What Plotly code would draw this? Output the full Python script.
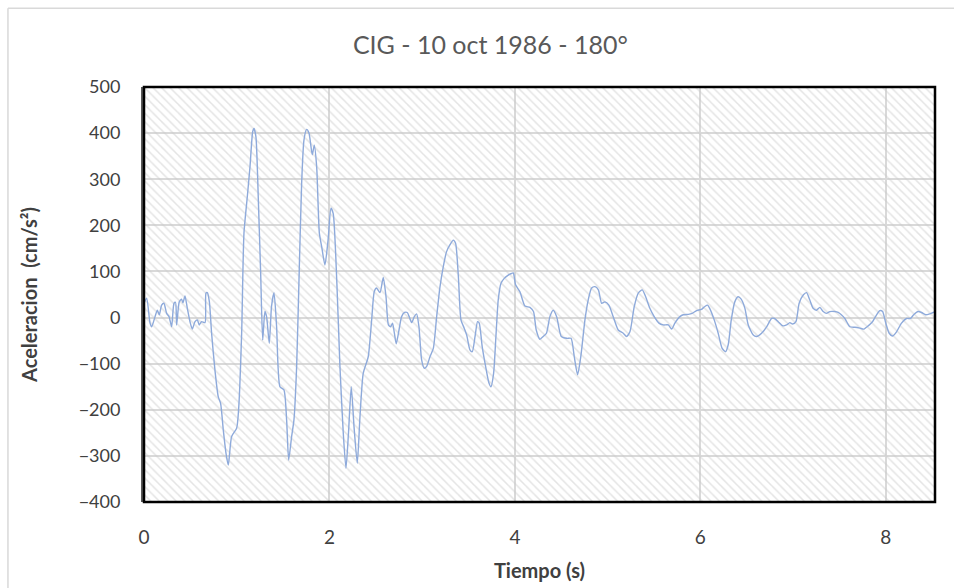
import plotly.graph_objects as go

title_text = "CIG - 10 oct 1986 - 180°"
x_title = "Tiempo (s)"
y_title = "Aceleracion  (cm/s²)"

x_range = [0, 8.53]
y_range = [-400, 500]
x_ticks = [0, 2, 4, 6, 8]
y_ticks = [-400, -300, -200, -100, 0, 100, 200, 300, 400, 500]

tiempo = [0.00, 0.029, 0.065, 0.083, 0.119, 0.144, 0.165, 0.19, 0.215, 0.244, 0.27, 0.298, 0.323, 0.34,
          0.352, 0.38, 0.405, 0.42, 0.442, 0.467, 0.496, 0.521, 0.55, 0.575, 0.596, 0.62, 0.658, 0.668,
          0.683, 0.705, 0.729, 0.765, 0.801, 0.826, 0.855, 0.884, 0.909, 0.945, 0.999, 1.02, 1.053, 1.078,
          1.114, 1.143, 1.172, 1.186, 1.207, 1.233, 1.258, 1.28, 1.304, 1.322, 1.351, 1.375, 1.402, 1.43,
          1.466, 1.509, 1.538, 1.56, 1.592, 1.617, 1.646, 1.675, 1.70, 1.725, 1.754, 1.779, 1.815, 1.836,
          1.862, 1.891, 1.916, 1.951, 1.985, 2.016, 2.04, 2.08, 2.113, 2.149, 2.178, 2.205, 2.235, 2.265,
          2.30, 2.329, 2.364, 2.418, 2.455, 2.483, 2.508, 2.545, 2.58, 2.61, 2.636, 2.66, 2.68, 2.70, 2.72,
          2.75, 2.778, 2.81, 2.839, 2.86, 2.886, 2.915, 2.94, 2.965, 2.994, 3.022, 3.048, 3.084, 3.12,
          3.156, 3.19, 3.227, 3.263, 3.30, 3.335, 3.36, 3.39, 3.418, 3.453, 3.48, 3.515, 3.54, 3.57, 3.597,
          3.615, 3.647, 3.684, 3.72, 3.741, 3.77, 3.795, 3.82, 3.849, 3.885, 3.928, 3.955, 3.982, 4.007,
          4.054, 4.108, 4.162, 4.2, 4.23, 4.269, 4.305, 4.34, 4.377, 4.413, 4.45, 4.5, 4.56, 4.605, 4.64,
          4.676, 4.71, 4.755, 4.79, 4.827, 4.863, 4.9, 4.935, 4.97, 5.013, 5.06, 5.114, 5.168, 5.204, 5.24,
          5.287, 5.33, 5.373, 5.41, 5.455, 5.502, 5.553, 5.6, 5.654, 5.69, 5.725, 5.779, 5.815, 5.87, 5.91,
          5.959, 6.013, 6.048, 6.078, 6.10, 6.149, 6.192, 6.235, 6.272, 6.30, 6.333, 6.371, 6.406, 6.44,
          6.48, 6.516, 6.57, 6.606, 6.66, 6.714, 6.768, 6.80, 6.839, 6.89, 6.929, 6.965, 6.994, 7.03, 7.065,
          7.109, 7.145, 7.18, 7.216, 7.252, 7.288, 7.324, 7.36, 7.396, 7.45, 7.486, 7.52, 7.558, 7.612,
          7.666, 7.72, 7.763, 7.81, 7.856, 7.9, 7.935, 7.965, 7.999, 8.036, 8.072, 8.115, 8.169, 8.223,
          8.265, 8.3, 8.348, 8.385, 8.43, 8.474, 8.51, 8.53]

aceleracion = [31, 42, -12, -20, 2, 16, 6, 27, 31, 9, 2, -20, 31, 33,
               -16, 34, 40, 32, 47, 20, -9, -25, -9, -5, -16, -9, -11, 53,
               54, 34, -34, -114, -172, -186, -244, -294, -320, -258, -240, -200, -34, 183,
               262, 327, 403, 410, 392, 255, 96, -49, 13, 2, -56, 24, 54, -20,
               -150, -157, -222, -309, -258, -222, -106, 110, 291, 385, 408, 400, 353, 374,
               327, 183, 154, 114, 168, 237, 226, 74, -106, -251, -327, -251, -150, -237,
               -316, -215, -121, -85, -5, 56, 64, 54, 87, 45, -16, -20, -12, -34, -57,
               -27, 2, 11, 11, 2, -11, 2, 8, -20, -92, -110, -106, -85, -67,
               2, 64, 110, 143, 158, 168, 161, 89, -5, -23, -38, -70, -74, -41, -9,
               -12, -63, -106, -142, -150, -121, -41, 38, 74, 85, 92, 95, 97, 71,
               56, 25, 22, 13, -27, -47, -41, -34, 2, 16, 2, -41, -45, -45, -85,
               -124, -85, -5, 38, 64, 67, 60, 31, 34, 27, 2, -27, -34, -41, -31,
               24, 53, 60, 45, 20, 2, -12, -16, -16, -25, -12, 2, 6, 7, 9,
               15, 18, 24, 27, 20, -5, -34, -67, -74, -59, -5, 34, 45, 40,
               20, -16, -38, -41, -34, -20, -2, -2, -9, -18, -16, -11, -14, -9, 31,
               49, 54, 38, 20, 16, 22, 13, 9, 13, 13, 11, 6, -2, -20,
               -21, -23, -25, -18, -9, 6, 15, 13, -12, -34, -40, -31, -12, -2,
               -2, 6, 13, 11, 6, 8, 11, 12]

font_family = "Lato, 'Open Sans', sans-serif"

fig = go.Figure()

# hatched plot-area background
fig.add_trace(go.Scatter(
    x=[x_range[0], x_range[1], x_range[1], x_range[0], x_range[0]],
    y=[y_range[0], y_range[0], y_range[1], y_range[1], y_range[0]],
    mode="none", fill="toself", fillcolor="rgba(0,0,0,0)",
    fillpattern=dict(shape="\\", fgcolor="#c9c9c9", bgcolor="rgba(255,255,255,0)",
                     size=6, solidity=0.25),
    hoverinfo="skip", showlegend=False,
))

fig.add_trace(go.Scatter(
    x=tiempo, y=aceleracion, mode="lines",
    line=dict(color="#8eaadb", width=1.4, shape="spline", smoothing=0.6),
    showlegend=False,
))

fig.update_layout(
    width=954, height=588,
    margin=dict(l=144, r=19, t=87, b=86, autoexpand=False),
    paper_bgcolor="white", plot_bgcolor="white",
    title=dict(text=title_text, x=0.514, xanchor="center", y=0.923, yanchor="middle",
               font=dict(family=font_family, size=25, color="#595959")),
    font=dict(family=font_family, size=18, color="#404040"),
    xaxis=dict(range=x_range, tickvals=x_ticks, showgrid=True, gridcolor="#d9d9d9", gridwidth=2,
               zeroline=False, showline=False, ticks="", ticklabelstandoff=22, automargin=False,
               tickfont=dict(size=19),
               title=dict(text="<b>" + x_title + "</b>", standoff=16,
                          font=dict(family=font_family, size=20, color="#404040"))),
    yaxis=dict(range=y_range, tickvals=y_ticks, showgrid=True, gridcolor="#d9d9d9", gridwidth=2,
               zeroline=False, showline=True, linecolor="#595959", linewidth=3, ticks="",
               ticklabelstandoff=17, automargin=False,
               title=dict(text="<b>" + y_title + "</b>", standoff=36,
                          font=dict(family=font_family, size=20, color="#404040"))),
    shapes=[
        dict(type="rect", xref="paper", yref="paper", x0=0, y0=0, x1=1, y1=1,
             line=dict(color="black", width=2.5), layer="above"),
        dict(type="line", xref="paper", yref="paper", x0=-0.172, x1=1.03, y0=1.19, y1=1.19,
             line=dict(color="#d9d9d9", width=1.5)),
        dict(type="line", xref="paper", yref="paper", x0=-0.172, x1=-0.172, y0=1.19, y1=-0.3,
             line=dict(color="#d9d9d9", width=1.5)),
    ],
)

fig.write_html("out.html")
